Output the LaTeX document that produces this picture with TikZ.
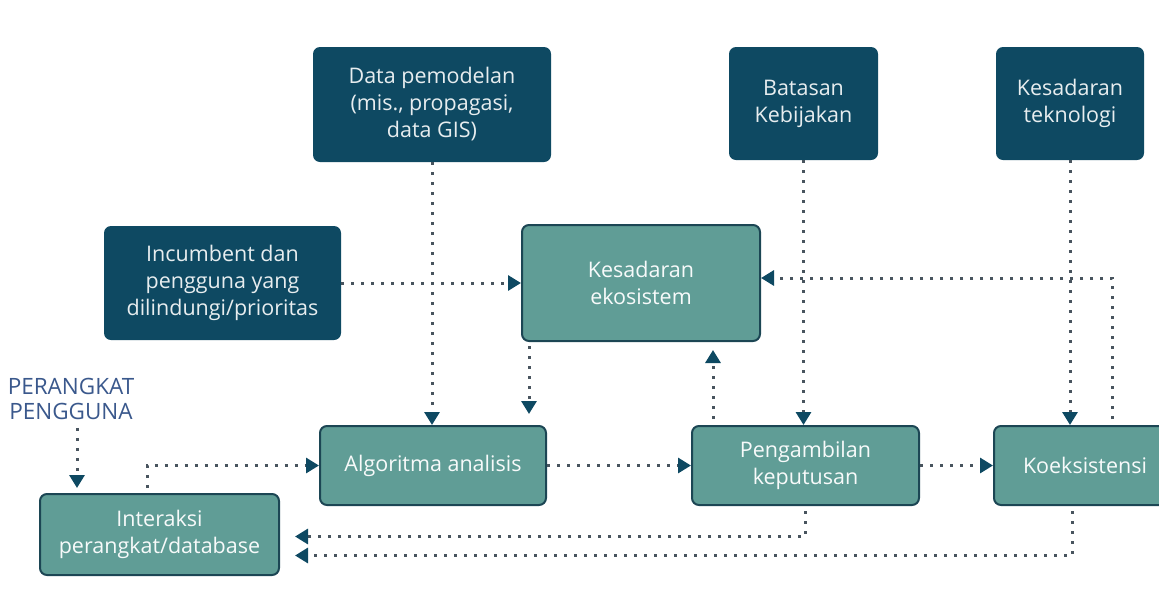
\documentclass[tikz,border=0pt]{standalone}
\usepackage{fontspec}
\setmainfont{Open Sans}
\usetikzlibrary{positioning,arrows.meta}
\definecolor{boxDark}{RGB}{14,73,98}
\definecolor{boxTeal}{RGB}{96,157,150}
\definecolor{boxEdge}{RGB}{28,70,84}
\definecolor{lineGray}{RGB}{72,84,94}
\definecolor{labelBlue}{RGB}{58,88,140}

\tikzset{
  darkbox/.style={rectangle, rounded corners=7pt, fill=boxDark, text=white!90!boxDark,
    align=center, inner sep=0pt, font=\fontsize{21.5}{27}\selectfont},
  tealbox/.style={rectangle, rounded corners=7pt, fill=boxTeal, draw=boxEdge, line width=2pt,
    text=white!95!boxTeal, align=center, inner sep=0pt, font=\fontsize{21.5}{27}\selectfont},
  flow/.style={draw=lineGray, line width=3pt, dash pattern=on 3pt off 7pt,
    -{Triangle[width=15pt,length=13pt,color=boxDark]}}
}

\begin{document}
\begin{tikzpicture}[x=1pt,y=-1pt]
  \useasboundingbox (0,0) rectangle (1159,595);

  % Inputs on top
  \node[darkbox, minimum width=238pt, minimum height=115pt] (data) at (432,104.5)
    {Data pemodelan\\(mis., propagasi,\\data GIS)};
  \node[darkbox, minimum width=149pt, minimum height=113pt] (batasan) at (803.5,103.5)
    {Batasan\\Kebijakan};
  \node[darkbox, minimum width=148pt, minimum height=113pt] (teknologi) at (1070,103.5)
    {Kesadaran\\teknologi};
  \node[darkbox, minimum width=237pt, minimum height=114pt] (incumbent) at (222.5,283)
    {Incumbent dan\\pengguna yang\\dilindungi/prioritas};

  % Core blocks
  \node[tealbox, minimum width=238pt, minimum height=116pt] (ekosistem) at (641,283)
    {Kesadaran\\ekosistem};
  \node[tealbox, minimum width=226pt, minimum height=79pt] (algo) at (433,465.5)
    {Algoritma analisis};
  \node[tealbox, minimum width=227pt, minimum height=79pt] (ambil) at (805.5,465.5)
    {Pengambilan\\keputusan};
  \node[tealbox, minimum width=182pt, minimum height=79pt] (koeks) at (1085,465.5)
    {Koeksistensi};
  \node[tealbox, minimum width=239pt, minimum height=81pt] (inter) at (159.5,534.5)
    {Interaksi\\perangkat/database};

  \node[text=labelBlue, align=center, inner sep=0pt, font=\fontsize{22.5}{25}\selectfont]
    (perangkat) at (71,399) {PERANGKAT\\PENGGUNA};

  % Connectors
  \draw[flow] (data.south) -- (data.south |- algo.north);
  \draw[flow] (incumbent.east) -- (ekosistem.west);
  \coordinate (ekoDown) at ([xshift=8pt]ekosistem.south west);
  \draw[flow, shorten <=4pt, shorten >=11pt] (ekoDown) -- (ekoDown |- algo.north);
  \coordinate (ambilUp) at ([xshift=22pt]ambil.north west);
  \draw[flow, shorten <=6pt, shorten >=8pt] (ambilUp) -- (ambilUp |- ekosistem.south);
  \draw[flow] (batasan.south) -- (batasan.south |- ambil.north);
  \draw[flow] (teknologi.south) -- (teknologi.south |- koeks.north);
  \coordinate (koeksUp) at ([xshift=119pt]koeks.north west);
  \draw[flow, shorten <=6pt] (koeksUp) |- ([yshift=5pt]ekosistem.east);
  \draw[flow] (algo.east) -- (ambil.west);
  \draw[flow] (ambil.east) -- (koeks.west);
  \coordinate (interUp) at ([xshift=108pt]inter.north west);
  \draw[flow, shorten <=5pt] (interUp) |- (algo.west);
  \draw[flow, shorten <=8pt, shorten >=5pt] ([xshift=6pt]perangkat.south) -- ([xshift=6pt]perangkat.south |- inter.north);
  \draw[flow, shorten <=5pt, shorten >=15pt] (ambil.south) |- ([yshift=-2pt]inter.east);
  \coordinate (koeksDown) at ([xshift=79pt]koeks.south west);
  \draw[flow, shorten <=5pt, shorten >=15pt] (koeksDown) |- ([yshift=-21pt]inter.east);
\end{tikzpicture}
\end{document}
